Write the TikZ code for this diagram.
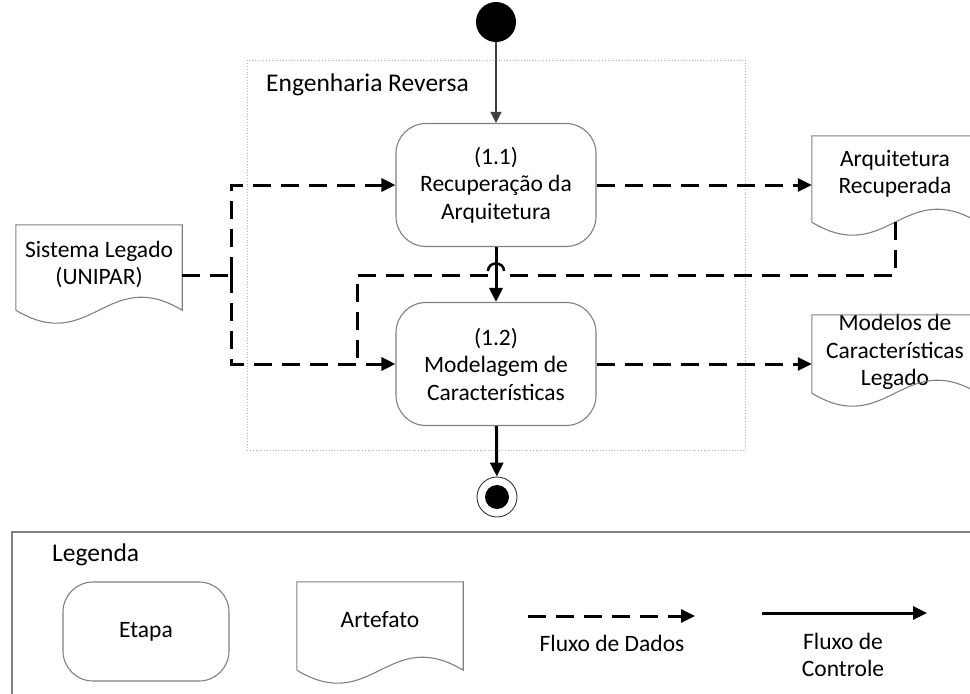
\documentclass[tikz,border=0pt]{standalone}
\usepackage{fontspec}
\setmainfont{Carlito}
\usetikzlibrary{arrows.meta,calc}

% outline of an artefact (document shape with a wavy lower edge)
\newcommand\docoutline[1]{%
  \draw[frame] (#1.south west) -- (#1.north west) -- (#1.north east) -- (#1.south east)
    .. controls +(-75,-45) and +(75,45) .. (#1.south west);}

\begin{document}
\begin{tikzpicture}[x=1pt,y=-1pt,
  every node/.style={font=\fontsize{23.5}{27.5}\selectfont, inner sep=0pt},
  title/.style={font=\fontsize{25.5}{30}\selectfont},
  frame/.style={draw=black!50, line width=1.1pt},
  stepbox/.style={frame, rounded corners=30pt, minimum width=200pt,
    minimum height=123pt, align=center},
  doc/.style={draw=none, minimum width=166pt},
  dataline/.style={line width=3pt, dash pattern=on 18pt off 10pt},
  data/.style={dataline, -{Triangle[length=14pt,width=13pt]}},
  ctrlline/.style={line width=3pt},
  ctrl/.style={ctrlline, -{Triangle[length=14pt,width=13pt]}},
  startflow/.style={draw=black!75, line width=1.3pt, -{Triangle[length=11pt,width=11pt]}}]

\clip (0,0) rectangle (970,694);

% ---------- reverse engineering phase ----------
\node[draw=black!30, dotted, line width=0.8pt, anchor=north west,
  minimum width=498pt, minimum height=390pt] (er) at (247,60) {};
\node[title, anchor=west] (ertitle) at (266,85) {Engenharia Reversa};

\node[circle, fill=black, minimum size=40pt] (ini) at (496,22) {};

\node[stepbox] (s11) at (496,185) {(1.1)\\Recuperação da\\Arquitetura};
\node[stepbox] (s12) at (496,364) {(1.2)\\Modelagem de\\Características};

\node[circle, draw=black!80, line width=0.9pt, minimum size=40pt] (fim) at (497,497) {};
\node[circle, fill=black, minimum size=24pt] (fimin) at (fim) {};

% artefacts
\node[doc, minimum height=85pt,
  label={[align=center, yshift=3pt]center:Sistema Legado\\(UNIPAR)}] (sis) at (99,267.5) {};
\docoutline{sis}
\node[doc, minimum height=86pt,
  label={[align=center, yshift=5pt]center:Arquitetura\\Recuperada}] (arq) at (895,179) {};
\docoutline{arq}
\node[doc, minimum height=78pt,
  label={[align=center, yshift=2pt]center:Modelos de\\Características\\Legado}] (mod) at (895,354) {};
\docoutline{mod}

% junctions of the data flows
\coordinate (jn) at (231,275);
\coordinate (hopR) at (504,275);
\coordinate (hopL) at (488,275);
\coordinate (j2) at (357,363);

% control flow
\draw[startflow] (ini) -- (s11);
\draw[ctrl] (s11) -- (s12);
\draw[ctrl] (s12) -- (fim);

% data flow
\draw[dataline] ([yshift=-7.5pt]sis.east) -- (jn);
\draw[data] (jn) |- (s11.west);
\draw[data] (jn) |- (s12.west);
\draw[data] (s11.east) -- (s11.east -| arq.west);
\draw[data] (s12.east) -- (s12.east -| mod.west);
\draw[dataline] (arq.south) |- (hopR);
\draw[line width=2.5pt] ([yshift=4pt]hopR) .. controls +(0,-10) and +(0,-10) .. ([yshift=4pt]hopL);
\draw[dataline] (hopL) -| (j2);

% ---------- legend ----------
\draw[frame] (12,532) rectangle (990,712);
\node[title, anchor=west] (leg) at (52,555) {Legenda};
\node[stepbox, minimum width=166pt, minimum height=99pt] (letapa) at (146,631.5) {Etapa};
\node[doc, minimum height=88pt,
  label={[yshift=6pt]center:Artefato}] (lart) at (380,626) {};
\docoutline{lart}
\coordinate (ld1) at (528,616);
\coordinate (ld2) at (695,616);
\draw[data] (ld1) -- (ld2);
\node (ldtxt) at (612,643) {Fluxo de Dados};
\coordinate (lc1) at (762,613);
\coordinate (lc2) at (927,613);
\draw[ctrl] (lc1) -- (lc2);
\node[align=center] (lctxt) at (843,655) {Fluxo de\\Controle};
\end{tikzpicture}
\end{document}
